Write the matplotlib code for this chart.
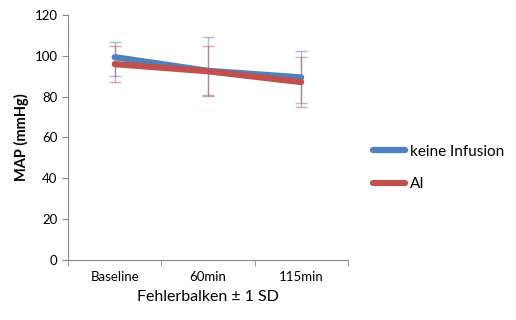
import matplotlib.pyplot as plt
from matplotlib.lines import Line2D

plt.rcParams['font.family'] = ['Lato', 'DejaVu Sans']

categories = ["Baseline", "60min", "115min"]
series = ["keine Infusion", "AI"]

blue_mean = [99.3, 92.6, 89.4]
blue_upper = [106.8, 109.3, 102.1]
blue_lower = [90.2, 80.6, 77.1]

red_mean = [95.9, 92.4, 87.1]
red_upper = [105.0, 105.0, 99.3]
red_lower = [87.0, 80.4, 74.8]

blue = "#4F81BD"
red = "#C0504D"

fig = plt.figure(figsize=(5.16, 3.2), dpi=100)
ax = fig.add_axes([0.132, 0.1875, 0.542, 0.766])

x = list(range(len(categories)))

for mean, up, lo, c in [(blue_mean, blue_upper, blue_lower, blue),
                        (red_mean, red_upper, red_lower, red)]:
    yerr = [[m - l for m, l in zip(mean, lo)], [u - m for u, m in zip(up, mean)]]
    ax.errorbar(x, mean, yerr=yerr, fmt='none', ecolor=c, elinewidth=1,
                capsize=4, capthick=1, alpha=0.5, zorder=2)

ax.plot(x, blue_mean, color=blue, lw=4.5, solid_capstyle='round', zorder=3)
ax.plot(x, red_mean, color=red, lw=4.5, solid_capstyle='round', zorder=4)

ax.set_xlim(-0.5, 2.5)
ax.set_ylim(0, 120)
ax.set_yticks(range(0, 121, 20))
ax.set_xticks(x)
ax.set_xticklabels(categories, fontsize=9.5)
ax.set_xticks([-0.5, 0.5, 1.5, 2.5], minor=True)
ax.tick_params(axis='x', which='major', length=0, pad=8)
ax.tick_params(axis='x', which='minor', length=4, color="#888888")
ax.tick_params(axis='y', length=4, color="#888888", labelsize=9.5)

for s in ["top", "right"]:
    ax.spines[s].set_visible(False)
for s in ["left", "bottom"]:
    ax.spines[s].set_color("#888888")

ax.set_ylabel("MAP (mmHg)", fontsize=10.5, fontweight='bold')
ax.set_xlabel("Fehlerbalken ± 1 SD", fontsize=11.5, labelpad=5)

handles = [Line2D([], [], color=blue, lw=4.5, solid_capstyle='round'),
           Line2D([], [], color=red, lw=4.5, solid_capstyle='round')]
fig.legend(handles, series, loc='center left', bbox_to_anchor=(0.697, 0.475),
           frameon=False, fontsize=11, handlelength=2.1, handletextpad=0.3,
           labelspacing=1.2)

fig.savefig("out.png", dpi=100)
